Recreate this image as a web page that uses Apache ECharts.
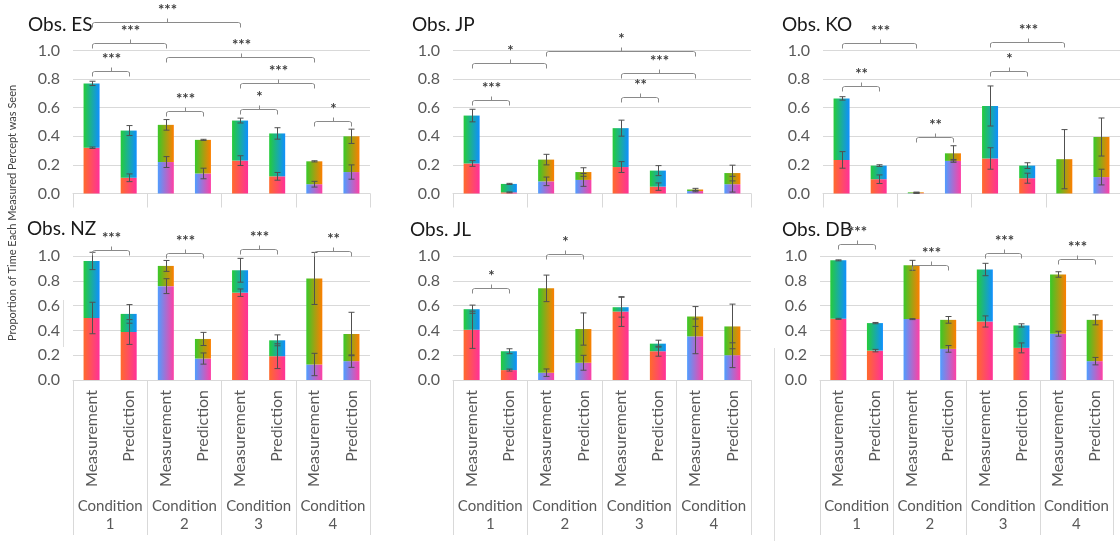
<!DOCTYPE html>
<html>
<head>
<meta charset="utf-8">
<script src="https://cdn.jsdelivr.net/npm/echarts@6/dist/echarts.min.js"></script>
<style>
  html, body { margin: 0; padding: 0; background: #ffffff; }
  #chart { width: 1120px; height: 541px; }
</style>
</head>
<body>
<div id="chart"></div>
<script>
// Bar categories (two per condition) and condition group labels
const barLabels = ['Measurement', 'Prediction', 'Measurement', 'Prediction',
                   'Measurement', 'Prediction', 'Measurement', 'Prediction'];
const conditionLabels = ['Condition\n1', 'Condition\n2', 'Condition\n3', 'Condition\n4'];
const yTickValues = [0, 0.2, 0.4, 0.6, 0.8, 1.0];
const observerNames = ['Obs. ES', 'Obs. JP', 'Obs. KO', 'Obs. NZ', 'Obs. JL', 'Obs. DB'];

// Proportion of time for the lower and upper percept of each bar, with error sizes.
// Brackets: [from bar, to bar, height, significance]
const esLower    = [0.32, 0.11, 0.22, 0.14, 0.23, 0.12, 0.065, 0.15];
const esUpper    = [0.45, 0.33, 0.26, 0.235, 0.28, 0.30, 0.16, 0.25];
const esLowerErr = [0.005, 0.027, 0.038, 0.037, 0.034, 0.027, 0.02, 0.05];
const esUpperErr = [0.015, 0.035, 0.037, 0.004, 0.017, 0.04, 0.004, 0.05];
const esBrackets = [[0, 4, 1.2, '***'], [0, 2, 1.053, '***'], [0, 1, 0.856, '***'], [2, 6, 0.956, '***'],
                    [4, 6, 0.774, '***'], [2, 3, 0.577, '***'], [4, 5, 0.588, '*'], [6, 7, 0.509, '*']];

const jpLower    = [0.21, 0.008, 0.085, 0.095, 0.185, 0.048, 0.017, 0.065];
const jpUpper    = [0.335, 0.059, 0.152, 0.055, 0.272, 0.112, 0.011, 0.078];
const jpLowerErr = [0.02, 0.003, 0.03, 0.045, 0.038, 0.026, 0.005, 0.055];
const jpUpperErr = [0.044, 0.004, 0.037, 0.03, 0.056, 0.035, 0.008, 0.055];
const jpBrackets = [[0, 1, 0.653, '***'], [0, 2, 0.916, '*'], [2, 6, 0.998, '*'],
                    [4, 6, 0.84, '***'], [4, 5, 0.677, '**']];

const koLower    = [0.235, 0.10, 0.002, 0.228, 0.245, 0.107, 0.0, 0.115];
const koUpper    = [0.43, 0.095, 0.006, 0.053, 0.367, 0.088, 0.24, 0.28];
const koLowerErr = [0.058, 0.03, 0.001, 0.01, 0.075, 0.035, 0.0, 0.055];
const koUpperErr = [0.012, 0.006, 0.002, 0.053, 0.14, 0.02, 0.207, 0.133];
const koBrackets = [[0, 2, 1.053, '***'], [0, 1, 0.751, '**'], [2, 3, 0.393, '**'],
                    [4, 6, 1.06, '***'], [4, 5, 0.858, '*']];

const nzLower    = [0.5, 0.387, 0.757, 0.173, 0.704, 0.192, 0.125, 0.152];
const nzUpper    = [0.46, 0.146, 0.163, 0.158, 0.181, 0.128, 0.694, 0.219];
const nzLowerErr = [0.127, 0.1, 0.06, 0.045, 0.03, 0.1, 0.09, 0.05];
const nzUpperErr = [0.07, 0.075, 0.044, 0.053, 0.096, 0.044, 0.21, 0.175];
const nzBrackets = [[0, 1, 1.05, '***'], [2, 3, 1.024, '***'], [4, 5, 1.053, '***'], [6, 7, 1.04, '**']];

const jlLower    = [0.405, 0.08, 0.059, 0.139, 0.552, 0.232, 0.352, 0.2];
const jlUpper    = [0.166, 0.152, 0.68, 0.272, 0.035, 0.061, 0.16, 0.232];
const jlLowerErr = [0.15, 0.008, 0.03, 0.06, 0.12, 0.04, 0.14, 0.1];
const jlUpperErr = [0.033, 0.02, 0.107, 0.13, 0.08, 0.028, 0.08, 0.18];
const jlBrackets = [[0, 1, 0.739, '*'], [2, 3, 1.013, '*']];

const dbLower    = [0.493, 0.237, 0.491, 0.251, 0.472, 0.259, 0.373, 0.152];
const dbUpper    = [0.472, 0.222, 0.434, 0.234, 0.419, 0.181, 0.478, 0.333];
const dbLowerErr = [0.004, 0.01, 0.004, 0.027, 0.045, 0.04, 0.02, 0.03];
const dbUpperErr = [0.004, 0.005, 0.04, 0.027, 0.05, 0.013, 0.022, 0.04];
const dbBrackets = [[0, 1, 1.099, '***'], [2, 3, 0.925, '***'], [4, 5, 1.024, '***'], [6, 7, 0.979, '***']];

const panelData = [
  [esLower, esUpper, esLowerErr, esUpperErr, esBrackets],
  [jpLower, jpUpper, jpLowerErr, jpUpperErr, jpBrackets],
  [koLower, koUpper, koLowerErr, koUpperErr, koBrackets],
  [nzLower, nzUpper, nzLowerErr, nzUpperErr, nzBrackets],
  [jlLower, jlUpper, jlLowerErr, jlUpperErr, jlBrackets],
  [dbLower, dbUpper, dbLowerErr, dbUpperErr, dbBrackets]
];

// Panel placement (pixels) and whether the panel shows the category labels
const layouts = [
  { left: 73,  top: 50.5, width: 297, height: 143, titleX: 28,  titleY: 15,  labels: false },
  { left: 453, top: 50.5, width: 298, height: 143, titleX: 412, titleY: 15,  labels: false },
  { left: 823, top: 50.5, width: 299, height: 143, titleX: 782, titleY: 15,  labels: false },
  { left: 73,  top: 256,  width: 297, height: 124, titleX: 27,  titleY: 219, labels: true },
  { left: 453, top: 256,  width: 298, height: 124, titleX: 410, titleY: 220, labels: true },
  { left: 820, top: 256,  width: 293, height: 124, titleX: 782, titleY: 220, labels: true }
];

const FONT = 'Lato, "Open Sans", sans-serif';
const grad = (c0, c1) => new echarts.graphic.LinearGradient(0, 0, 1, 0, [
  { offset: 0, color: c0 }, { offset: 1, color: c1 }
]);
// Conditions 1 and 3 vs. conditions 2 and 4 use different percept colour pairs
const lowerFill = i => (Math.floor(i / 2) % 2 === 0) ? grad('#ff6a2c', '#ff3198') : grad('#4f9dff', '#ff3fa4');
const upperFill = i => (Math.floor(i / 2) % 2 === 0) ? grad('#25cc3a', '#0f8fff') : grad('#38c928', '#ff7e00');

const chart = echarts.init(document.getElementById('chart'), null, { renderer: 'canvas' });

const grids = [], xAxes = [], yAxes = [], series = [], titles = [];

layouts.forEach((L, g) => {
  const [lower, upper, lowerErr, upperErr, brackets] = panelData[g];
  grids.push({ left: L.left, top: L.top, width: L.width, height: L.height, containLabel: false });
  titles.push({
    text: observerNames[g], left: L.titleX, top: L.titleY, padding: 0,
    textStyle: { fontFamily: FONT, fontSize: 19, fontWeight: 'normal', color: '#1a1a1a' }
  });
  // bar-level axis
  xAxes.push({
    type: 'category', gridIndex: g, data: barLabels, position: 'bottom',
    axisLine: { show: true, lineStyle: { color: '#d9d9d9', width: 1 } },
    axisTick: { show: false },
    axisLabel: {
      show: L.labels, rotate: 90, interval: 0, margin: 10,
      fontFamily: FONT, fontSize: 16, color: '#595959'
    }
  });
  // condition-level axis with group separators
  xAxes.push({
    type: 'category', gridIndex: g, data: conditionLabels, position: 'bottom',
    axisLine: { show: false },
    axisTick: { show: true, length: L.labels ? 155 : 14, lineStyle: { color: '#d9d9d9', width: 1 } },
    axisLabel: {
      show: L.labels, interval: 0, margin: 117, lineHeight: 18,
      fontFamily: FONT, fontSize: 15, color: '#595959'
    }
  });
  yAxes.push({
    type: 'value', gridIndex: g, min: yTickValues[0], max: yTickValues[yTickValues.length - 1], interval: 0.2,
    axisLine: { show: false }, axisTick: { show: false },
    splitLine: { lineStyle: { color: '#d9d9d9', width: 1 } },
    axisLabel: { formatter: v => v.toFixed(1), margin: 13, fontFamily: FONT, fontSize: 16, color: '#595959' }
  });

  const xi = g * 2;
  series.push({
    type: 'bar', xAxisIndex: xi, yAxisIndex: g, stack: 'p' + g, barWidth: 16, silent: true,
    data: lower.map((v, i) => ({ value: v, itemStyle: { color: lowerFill(i) } }))
  });
  series.push({
    type: 'bar', xAxisIndex: xi, yAxisIndex: g, stack: 'p' + g, barWidth: 16, silent: true,
    data: upper.map((v, i) => ({ value: v, itemStyle: { color: upperFill(i) } }))
  });
  // error bars at the top of each segment
  series.push({
    type: 'custom', xAxisIndex: xi, yAxisIndex: g, clip: false, silent: true, z: 5,
    encode: { x: 0, y: [1, 3] },
    data: lower.map((v, i) => [i, v, lowerErr[i], v + upper[i], upperErr[i]]),
    renderItem: (params, api) => {
      const i = api.value(0);
      const children = [];
      [[api.value(1), api.value(2)], [api.value(3), api.value(4)]].forEach(([v, e]) => {
        if (!(e > 0)) return;
        const hi = api.coord([i, v + e]);
        const lo = api.coord([i, Math.max(0, v - e)]);
        const x = Math.round(hi[0]) + 0.5;
        const st = { stroke: '#505050', lineWidth: 1 };
        children.push({ type: 'line', shape: { x1: x, y1: hi[1], x2: x, y2: lo[1] }, style: st });
        children.push({ type: 'line', shape: { x1: x - 3, y1: hi[1], x2: x + 3, y2: hi[1] }, style: st });
        children.push({ type: 'line', shape: { x1: x - 3, y1: lo[1], x2: x + 3, y2: lo[1] }, style: st });
      });
      return { type: 'group', children };
    }
  });
  // significance brackets
  series.push({
    type: 'custom', xAxisIndex: xi, yAxisIndex: g, clip: false, silent: true, z: 6,
    encode: { x: [0, 1], y: 2 },
    data: brackets.map(b => [b[0], b[1], b[2]]),
    renderItem: (params, api) => {
      const a = api.coord([api.value(0), api.value(2)]);
      const b = api.coord([api.value(1), api.value(2)]);
      const y = Math.round(a[1]) + 0.5;
      const x1 = Math.round(a[0]) + 0.5, x2 = Math.round(b[0]) + 0.5;
      const mid = Math.round((x1 + x2) / 2) + 0.5;
      const st = { stroke: '#8a8a8a', lineWidth: 1, fill: null };
      return {
        type: 'group', children: [
          { type: 'polyline', shape: { points: [[x1, y + 5], [x1, y + 1], [x1 + 2, y], [x2 - 2, y], [x2, y + 1], [x2, y + 5]] }, style: st },
          { type: 'line', shape: { x1: mid, y1: y, x2: mid, y2: y - 4 }, style: st },
          { type: 'text', x: mid, y: y - 5, style: {
              text: brackets[params.dataIndex][3], align: 'center', verticalAlign: 'bottom',
              fontFamily: FONT, fontSize: 15, fontWeight: 'bold', fill: '#404040' } }
        ]
      };
    }
  });
});

chart.setOption({
  animation: false,
  backgroundColor: '#ffffff',
  title: titles,
  grid: grids,
  xAxis: xAxes,
  yAxis: yAxes,
  series: series,
  graphic: [
    {
      type: 'text', x: 12, y: 213, rotation: Math.PI / 2,
      style: { text: 'Proportion of Time Each Measured Percept was Seen', align: 'center', verticalAlign: 'middle',
               fontFamily: FONT, fontSize: 11, fill: '#404040' }
    },
    { type: 'line', shape: { x1: 63.5, y1: 300, x2: 63.5, y2: 347 }, style: { stroke: '#dddddd', lineWidth: 1 } },
    { type: 'line', shape: { x1: 774.5, y1: 348, x2: 774.5, y2: 541 }, style: { stroke: '#dddddd', lineWidth: 1 } }
  ]
});
</script>
</body>
</html>
